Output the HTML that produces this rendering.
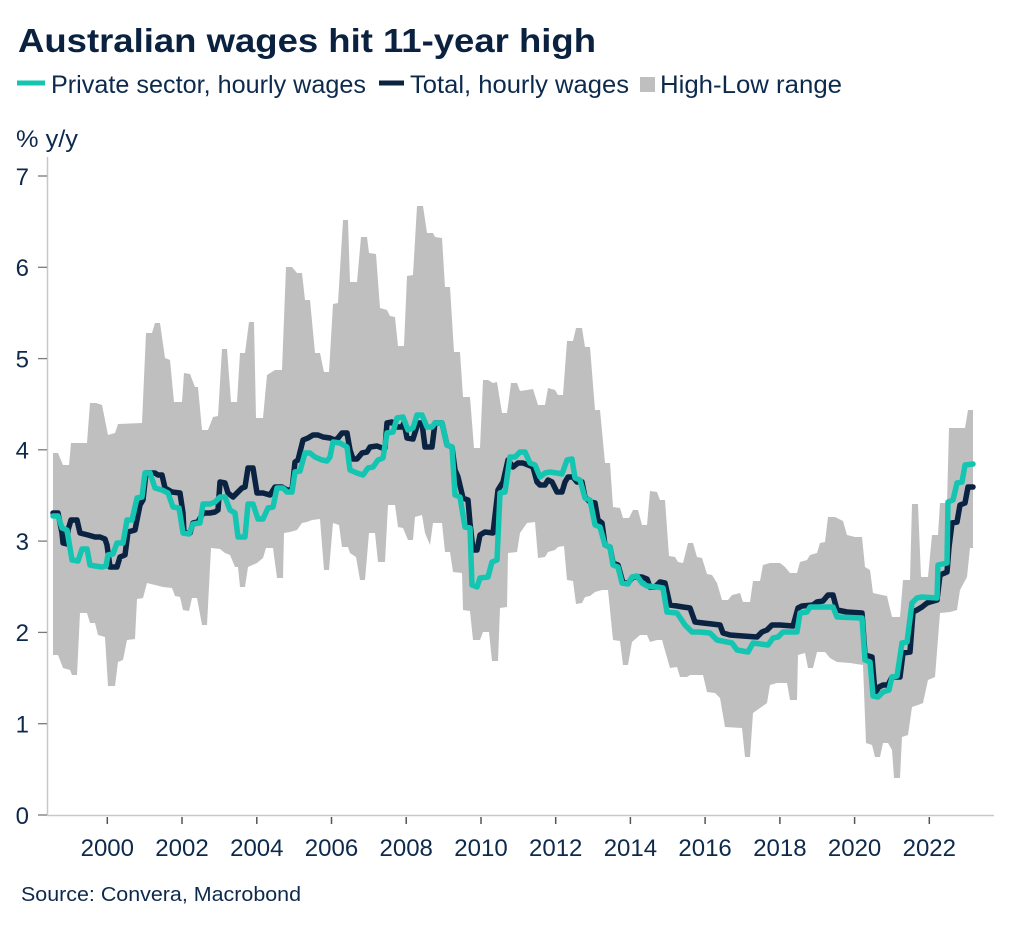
<!DOCTYPE html>
<html>
<head>
<meta charset="utf-8">
<style>
  html,body{margin:0;padding:0;background:#fff;}
  svg{display:block;}
  text{font-family:"Liberation Sans",sans-serif;fill:#0d2a4d;}
</style>
</head>
<body>
<svg width="1024" height="928" viewBox="0 0 1024 928" xmlns="http://www.w3.org/2000/svg">
  <rect x="0" y="0" width="1024" height="928" fill="#fff"/>

  <!-- Title -->
  <text x="18" y="52" font-size="33" font-weight="bold" style="fill:#0a2240" textLength="578" lengthAdjust="spacingAndGlyphs">Australian wages hit 11-year high</text>

  <!-- Legend -->
  <rect x="17" y="80.5" width="28" height="5" fill="#14c6b2"/>
  <text x="51" y="93" font-size="25" textLength="315" lengthAdjust="spacingAndGlyphs">Private sector, hourly wages</text>
  <rect x="379" y="80.5" width="25" height="5" fill="#0a2342"/>
  <text x="410" y="93" font-size="25" textLength="219" lengthAdjust="spacingAndGlyphs">Total, hourly wages</text>
  <rect x="640" y="77" width="15" height="15" fill="#bfbfbf"/>
  <text x="660" y="93" font-size="25" textLength="182" lengthAdjust="spacingAndGlyphs">High-Low range</text>

  <!-- Y axis title -->
  <text x="16" y="147" font-size="24" textLength="62" lengthAdjust="spacingAndGlyphs">% y/y</text>

  <!-- High-Low band -->
  <polygon fill="#bfbfbf" points="
53,453 58,453 63,465 69,465 71,443 87,443 90,403 96,403 102,405 108,435 115,433 118,424 142,423 146,333 152,333 155,323 160,323 165,358 170,360 174,402 182,402 184,373 190,374 195,387 198,387 202,430 208,430 213,417 218,416 222,349 227,349 231,402 237,402 240,353 245,353 249,322 254,322 256,418 263,418 267,375 275,370 282,370 286,267 292,267 297,273 302,273 305,300 310,300 315,353 320,353 324,372 329,372 333,304 338,303 343,220 348,220 350,282 357,282 361,237 367,237 369,253 376,254 380,308 387,310 390,316 395,317 398,346 404,346 407,276 413,275 417,206 423,206 427,233 433,233 435,237 442,238 445,287 450,287 454,352 460,352 463,397 470,397 474,448 480,448 483,380 488,380 493,383 497,382 502,413 507,413 511,383 517,383 520,391 527,390 533,389 538,405 545,405 548,388 555,390 558,395 563,395 567,341 573,341 576,328 582,328 585,347 590,347 595,410 600,410 605,463 610,463 613,507 620,508 623,518 629,518 633,510 638,510 642,525 647,525 650,491 657,492 660,500 665,500 669,556 675,557 678,562 683,563 688,543 693,543 697,557 702,558 707,574 712,575 717,583 722,600 728,600 732,595 740,593 743,602 750,602 753,581 760,581 763,565 770,563 780,563 785,567 790,573 797,573 800,562 807,560 810,555 817,553 820,543 825,542 828,517 835,517 843,521 847,535 855,537 862,537 865,567 870,570 873,593 882,595 887,596 892,617 900,617 903,580 910,580 912,504 918,504 921,577 928,577 932,535 938,535 940,503 947,503 949,428 965,428 968,410 973,410
973,548 970,548 967,577 960,590 957,610 950,612 940,613 935,677 928,680 923,703 918,705 912,707 908,735 902,737 900,778 894,778 892,750 888,743 883,743 880,757 875,757 872,745 866,743 863,665 850,663 837,662 830,658 825,652 817,652 813,668 808,668 805,653 798,655 797,700 790,700 787,683 777,683 770,685 767,703 760,708 753,713 750,757 745,757 742,728 725,727 720,698 715,693 707,692 703,675 690,675 687,677 680,677 677,667 670,668 662,640 657,640 650,642 647,635 640,635 632,642 628,665 623,665 620,641 613,640 608,590 602,590 595,592 590,596 585,597 582,603 576,604 573,581 567,580 564,546 558,547 555,550 548,552 545,557 538,558 535,522 527,523 520,533 517,552 508,553 507,607 500,608 498,661 492,661 489,632 483,632 480,640 473,640 470,611 463,610 462,573 453,572 450,552 445,552 442,523 433,523 430,545 425,533 422,515 415,517 413,540 408,540 403,528 398,527 395,505 388,505 385,562 378,562 375,533 369,533 365,580 360,580 356,557 350,553 348,547 342,547 339,525 333,523 329,570 324,570 320,519 312,520 307,522 302,523 297,530 290,532 284,533 283,578 277,578 273,548 266,548 263,558 257,563 248,567 245,587 240,587 238,567 235,567 230,555 225,553 220,549 211,548 207,625 202,625 197,598 192,598 189,611 183,610 180,597 175,596 172,588 163,587 155,585 147,583 143,598 137,599 135,639 127,640 123,660 118,662 115,686 108,686 105,637 98,635 95,623 90,623 87,613 80,613 77,675 72,675 70,670 63,668 58,655 53,655"/>

  <!-- Axes -->
  <line x1="47.5" y1="157" x2="47.5" y2="815.5" stroke="#c8c8c8" stroke-width="1.5"/>
  <line x1="47" y1="815.5" x2="994" y2="815.5" stroke="#c8c8c8" stroke-width="1.5"/>

  <!-- Y ticks -->
  <g stroke="#7a7a7a" stroke-width="1.3">
    <line x1="38" y1="815" x2="47" y2="815"/>
    <line x1="38" y1="723.7" x2="47" y2="723.7"/>
    <line x1="38" y1="632.4" x2="47" y2="632.4"/>
    <line x1="38" y1="541.1" x2="47" y2="541.1"/>
    <line x1="38" y1="449.8" x2="47" y2="449.8"/>
    <line x1="38" y1="358.6" x2="47" y2="358.6"/>
    <line x1="38" y1="267.3" x2="47" y2="267.3"/>
    <line x1="38" y1="176" x2="47" y2="176"/>
  </g>
  <g font-size="24" text-anchor="end">
    <text x="29" y="824">0</text>
    <text x="29" y="732.5">1</text>
    <text x="29" y="641">2</text>
    <text x="29" y="550">3</text>
    <text x="29" y="458.5">4</text>
    <text x="29" y="367.5">5</text>
    <text x="29" y="276">6</text>
    <text x="29" y="185">7</text>
  </g>

  <!-- X ticks -->
  <g stroke="#555" stroke-width="1.5">
    <line x1="107.3" y1="817" x2="107.3" y2="824"/>
    <line x1="182" y1="817" x2="182" y2="824"/>
    <line x1="256.8" y1="817" x2="256.8" y2="824"/>
    <line x1="331.5" y1="817" x2="331.5" y2="824"/>
    <line x1="406.2" y1="817" x2="406.2" y2="824"/>
    <line x1="481" y1="817" x2="481" y2="824"/>
    <line x1="555.7" y1="817" x2="555.7" y2="824"/>
    <line x1="630.4" y1="817" x2="630.4" y2="824"/>
    <line x1="705.1" y1="817" x2="705.1" y2="824"/>
    <line x1="779.9" y1="817" x2="779.9" y2="824"/>
    <line x1="854.6" y1="817" x2="854.6" y2="824"/>
    <line x1="929.3" y1="817" x2="929.3" y2="824"/>
  </g>
  <g font-size="24" text-anchor="middle">
    <text x="107.3" y="856">2000</text>
    <text x="182" y="856">2002</text>
    <text x="256.8" y="856">2004</text>
    <text x="331.5" y="856">2006</text>
    <text x="406.2" y="856">2008</text>
    <text x="481" y="856">2010</text>
    <text x="555.7" y="856">2012</text>
    <text x="630.4" y="856">2014</text>
    <text x="705.1" y="856">2016</text>
    <text x="779.9" y="856">2018</text>
    <text x="854.6" y="856">2020</text>
    <text x="929.3" y="856">2022</text>
  </g>

  <!-- Total, hourly wages -->
  <polyline fill="none" stroke="#0a2342" stroke-width="5.5" stroke-linejoin="round" stroke-linecap="round" points="
53,513 58,513 62,533 63,543 67,544 68,530 71,520 77,520 80,533 88,535 95,537 100,537 105,539 107,545 110,567 117,567 120,557 125,555 128,532 135,530 140,505 143,500 146,473 155,473 158,475 162,475 165,488 172,492 180,493 183,513 184,533 190,533 193,523 198,522 203,513 210,513 215,512 218,510 220,482 225,483 228,493 233,497 237,493 242,488 245,487 248,468 253,468 257,493 263,493 270,495 275,487 282,487 287,490 292,490 295,462 298,460 303,440 308,438 313,435 318,435 323,437 330,438 335,440 338,438 342,433 347,433 350,450 353,459 357,459 362,453 367,452 370,447 377,446 382,448 385,448 387,423 392,422 397,427 402,427 404,423 407,438 413,439 418,423 422,423 425,447 432,447 435,423 442,423 447,445 452,447 455,470 458,477 463,498 468,500 470,523 473,550 477,550 480,535 485,532 493,533 498,490 503,482 508,460 513,467 518,463 523,463 528,465 533,467 537,482 540,485 545,485 548,480 552,482 557,492 562,492 565,482 568,477 573,477 577,482 582,482 585,497 590,502 595,503 598,520 602,523 605,545 610,547 613,563 618,565 623,583 628,583 633,577 642,577 647,579 650,587 655,587 660,582 665,583 670,605 677,606 683,607 690,608 695,622 703,623 712,624 720,625 723,633 730,635 743,636 757,637 762,632 767,630 772,625 780,625 793,626 798,608 802,606 813,605 817,602 823,601 828,595 833,595 837,610 847,612 862,613 865,655 872,657 875,693 879,687 883,685 888,685 892,677 900,677 903,653 910,652 913,612 917,610 922,607 927,603 930,602 937,600 940,575 947,572 949,547 952,523 957,522 960,505 965,503 968,487 973,487"/>

  <!-- Private sector, hourly wages -->
  <polyline fill="none" stroke="#14c6b2" stroke-width="5.5" stroke-linejoin="round" stroke-linecap="round" points="
53,516 58,516 62,528 67,530 72,560 78,561 82,549 87,549 90,565 95,566 102,567 106,566 108,555 113,554 117,543 123,543 127,520 132,520 137,498 142,497 145,473 150,473 155,488 162,490 168,493 173,507 179,508 183,533 189,534 193,524 200,523 203,504 210,504 215,502 220,497 225,497 230,510 235,513 238,537 245,537 248,504 253,504 258,519 263,519 268,508 273,507 277,488 283,488 287,492 292,492 295,472 300,471 305,453 310,453 315,457 322,460 327,461 330,457 333,442 340,443 347,447 350,470 357,473 363,475 368,468 373,467 378,460 383,458 387,433 393,432 397,418 403,417 408,430 413,428 417,415 422,415 427,427 432,427 435,423 442,423 447,445 452,447 455,495 460,497 465,527 470,528 472,585 477,587 480,578 488,577 492,562 497,560 500,493 505,492 510,457 515,457 520,452 525,452 530,463 535,465 540,477 545,473 550,472 557,473 562,474 567,460 572,459 575,478 580,480 585,498 590,500 595,525 600,527 605,545 610,547 613,565 618,567 622,583 628,584 632,577 637,576 642,583 647,586 657,587 663,588 667,612 677,613 685,625 692,632 700,632 710,633 717,640 732,643 737,650 748,652 753,643 768,645 773,638 778,637 783,632 797,632 800,613 807,612 810,607 833,607 837,617 862,618 865,660 870,662 873,696 878,697 883,692 889,690 892,677 897,676 902,643 907,642 912,603 917,598 922,597 937,598 938,565 947,563 948,502 953,500 957,483 962,482 965,465 973,464"/>

  <!-- Source -->
  <text x="21" y="901" font-size="20.5" textLength="280" lengthAdjust="spacingAndGlyphs">Source: Convera, Macrobond</text>
</svg>
</body>
</html>
